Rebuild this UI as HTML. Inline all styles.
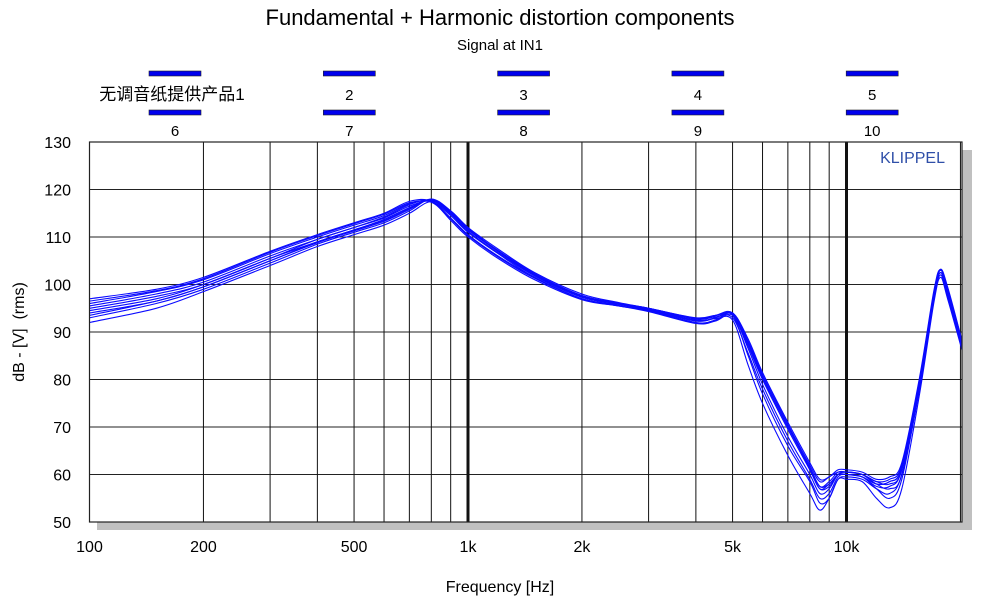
<!DOCTYPE html>
<html><head><meta charset="utf-8"><style>
body{margin:0;background:#fff;}
svg text{font-family:"Liberation Sans","Noto Sans CJK SC",sans-serif;}
</style></head><body>
<svg id="chart" width="1001" height="600" xmlns="http://www.w3.org/2000/svg">
<rect width="1001" height="600" fill="#fff"/>
<text x="500" y="25" font-size="22" text-anchor="middle">Fundamental + Harmonic distortion components</text>
<text x="500" y="50" font-size="15" text-anchor="middle">Signal at IN1</text>
<g id="legend"></g>
<rect x="962" y="150" width="10" height="380" fill="#c0c0c0"/>
<rect x="97" y="522" width="875" height="8" fill="#c0c0c0"/>
<rect x="89.5" y="142" width="872.5" height="380" fill="#fff"/>
<g id="grid"></g>
<defs><clipPath id="clip"><rect x="89.5" y="142" width="872.5" height="380"/></clipPath></defs>
<g id="series" clip-path="url(#clip)"></g>
<rect x="89.5" y="142" width="872.5" height="380" fill="none" stroke="#222" stroke-width="1.2"/>
<text x="945" y="163" font-size="16" fill="#2f4fa8" text-anchor="end">KLIPPEL</text>
<g id="yticks"></g>
<g id="xticks"></g>
<text x="500" y="592" font-size="16" text-anchor="middle">Frequency [Hz]</text>
<text transform="translate(24,332) rotate(-90)" font-size="16" text-anchor="middle">dB - [V]&#160; (rms)</text>
</svg>
<script>
const legendTop = ["无调音纸提供产品1","2","3","4","5"];
const legendBottom = ["6","7","8","9","10"];
const yTicks = [50,60,70,80,90,100,110,120,130];
const xTickVals = [100,200,500,1000,2000,5000,10000];
const xTickLabels = ["100","200","500","1k","2k","5k","10k"];
const freqs = [100,150,200,300,400,500,600,700,800,900,1000,1200,1500,2000,2500,3000,4000,4500,5000,5500,6000,7000,8000,8500,9000,9500,10000,11000,12000,13000,14000,15600,17000,17700,18500,20300];
const s1 = [96,98.5,101,106.5,110,112.5,114.5,117,117.5,114,110.5,106,101.5,97,95.5,94.5,92,92.5,94,88,81,70.5,62,58.5,59.5,60.5,60.5,60,58.5,59,62,80,98,103,99,87];
const s2 = [95.5,98,100.5,106,109.5,112,114,116.5,117.5,114.5,111,106.5,101.5,97,95.8,94.6,92.3,93,94,88.5,81.5,71,62.5,59,59.5,61,61,60.5,59,59.5,62.5,80.5,98.5,103.2,99.5,87.5];
const s3 = [94.5,97,100,105.5,109,111.5,113.5,116,117.8,115,111.5,107,102,97.5,96,94.8,92.5,93,93.8,87.5,80.5,70,61.5,57.5,58,60,60,59.5,58,58.5,61.5,79.5,97.5,102.5,98.5,86.5];
const s4 = [93,96,99,104.5,108.5,111,113,115.5,118,115.5,112,107,102,97.5,96,95,92.8,93.5,94,88,81,70.5,61,57,57.5,60,60.5,60,58.5,58,61,79,97,102,98,86];
const s5 = [92,95,98.5,104,108,110.5,112.5,115,117.5,115.5,112,107.5,102.5,98,96.2,95,93,93.5,93.5,85,77,66,58.5,54,55,59,59.5,59,57,56,60,78,96.5,102,97.5,86];
const s6 = [97,99,101.5,107,110.5,113,115,117.5,117.5,113.5,110,105.5,101,96.8,95.5,94.3,91.8,92.3,93.5,87,80,69.5,61,57,58,60,60,59.5,57.5,57.5,61,79.5,98,103,99,87];
const s7 = [96.5,98.7,101.2,106.8,110.3,112.8,114.8,117.2,117.3,113.8,110.3,105.8,101.3,97,95.6,94.4,91.9,92.5,93.8,87.5,80.5,70,61.5,57.5,58.5,60.5,60.5,60,58,58.5,61.5,80,98,103,99,87.5];
const s8 = [95,97.5,100,105.5,109.5,112,114.2,116.8,117.7,114.8,111.2,106.7,101.8,97.3,95.9,94.7,92.4,92.8,92.5,83,75,64,56,52.5,55,59,59,58.5,55,53,57,77,96,101.5,97,85.5];
const s9 = [94,96.5,99.5,105,109,111.5,113.7,116.2,117.8,115.2,111.7,107,102.2,97.6,96.1,94.9,92.7,93.2,93,85.5,78,67,59,55,56,59.5,60,59.5,57,55,59,78.5,97,102.5,98,86.5];
const s10 = [93.5,96.5,99.5,105,108.8,111.3,113.3,115.8,117.9,115.3,111.8,107.2,102.3,97.7,96.1,95,92.9,93.4,93.6,86.5,79,68,60,56,57,60,60.5,60,58,57,60,79,97.5,102.5,98.5,86.5];
const seriesList = [s1,s2,s3,s4,s5,s6,s7,s8,s9,s10];

const NS="http://www.w3.org/2000/svg";
const X0=89.5, DEC=378.5, Y0=522, PX=4.75;
function xs(f){return X0+DEC*(Math.log10(f)-2);}
function ys(v){return Y0-(v-50)*PX;}
function mk(tag,attrs,parent){const e=document.createElementNS(NS,tag);for(const k in attrs)e.setAttribute(k,attrs[k]);parent.appendChild(e);return e;}

const lg=document.getElementById('legend');
legendTop.forEach((t,i)=>{
  const cx=175+i*174.3;
  const b1=mk('rect',{x:cx-26,y:71,width:52,height:5,fill:'#0000ee',stroke:'#222','stroke-width':0.6},lg);
  
  
  const t1=mk('text',{x:i===0?172:cx,y:100,'font-size':i===0?17:15,'text-anchor':'middle'},lg);t1.textContent=t;
  
  
  const b2=mk('rect',{x:cx-26,y:110,width:52,height:5,fill:'#0000ee',stroke:'#222','stroke-width':0.6},lg);
  
  
  const t2=mk('text',{x:cx,y:136,'font-size':15,'text-anchor':'middle'},lg);t2.textContent=legendBottom[i];
  
  
});

const g=document.getElementById('grid');
yTicks.forEach(v=>{
  const l=mk('line',{x1:X0,x2:962,y1:ys(v),y2:ys(v),stroke:'#222','stroke-width':1},g);
  
  
});
for(let d=100;d<=10000;d*=10){
  for(let m=1;m<=9;m++){
    const f=d*m; if(f>20000) break;
    const x=xs(f); if(x>961) break;
    const thick=(f===1000||f===10000);
    const l=mk('line',{x1:x,x2:x,y1:142,y2:522,stroke:'#111','stroke-width':thick?3:1},g);
    
    
  }
}
const yt=document.getElementById('yticks');
yTicks.forEach(v=>{
  const t=mk('text',{x:71,y:ys(v)+6,'font-size':16,'text-anchor':'end'},yt);t.textContent=v;
  
  
});
const xt=document.getElementById('xticks');
xTickVals.forEach((f,i)=>{
  const t=mk('text',{x:xs(f),y:552,'font-size':16,'text-anchor':'middle'},xt);t.textContent=xTickLabels[i];
  
  
});
const sg=document.getElementById('series');
seriesList.forEach((s,si)=>{
  const pts=freqs.map((f,i)=>[xs(f),ys(s[i])]);
  let d='M'+pts[0][0].toFixed(1)+','+pts[0][1].toFixed(1);
  for(let i=0;i<pts.length-1;i++){
    const p0=pts[Math.max(0,i-1)],p1=pts[i],p2=pts[i+1],p3=pts[Math.min(pts.length-1,i+2)];
    const c1x=p1[0]+(p2[0]-p0[0])/6,c1y=p1[1]+(p2[1]-p0[1])/6;
    const c2x=p2[0]-(p3[0]-p1[0])/6,c2y=p2[1]-(p3[1]-p1[1])/6;
    d+=' C'+c1x.toFixed(1)+','+c1y.toFixed(1)+' '+c2x.toFixed(1)+','+c2y.toFixed(1)+' '+p2[0].toFixed(1)+','+p2[1].toFixed(1);
  }
  const p=mk('path',{d:d,fill:'none',stroke:'#0a0aff','stroke-width':1.1},sg);
  
  
});
</script>
</body></html>
